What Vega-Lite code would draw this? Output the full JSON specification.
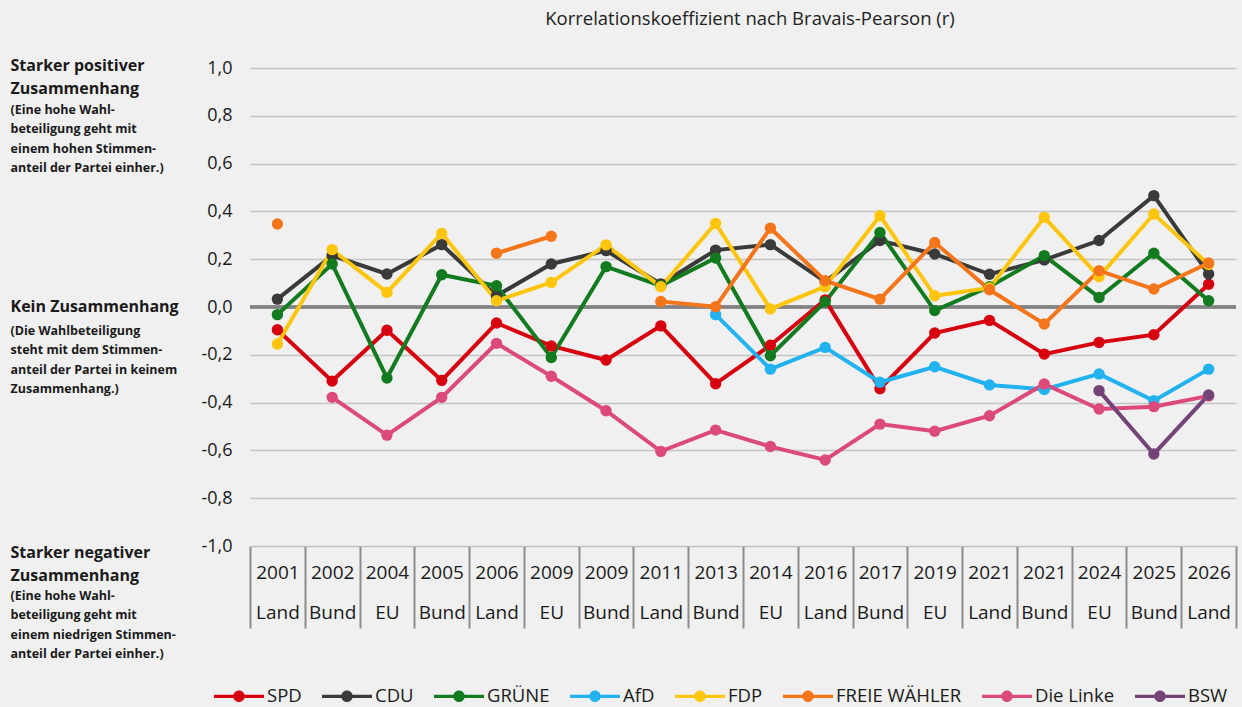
{
  "$schema": "https://vega.github.io/schema/vega-lite/v6.json",
  "autosize": {"type": "none"},
  "width": 986,
  "height": 478,
  "padding": {"left": 250, "top": 68, "right": 6, "bottom": 161},
  "background": "#f0f0f0",
  "title": {"text": "Korrelationskoeffizient nach Bravais-Pearson (r)", "anchor": "middle", "font": "Open Sans", "fontSize": 18.5, "fontWeight": "normal", "color": "#222222", "offset": 29, "dx": 7},
  "config": {"view": {"stroke": null}, "font": "Open Sans"},
  "datasets": {
    "r": [
      {"k": "2001 Land", "partei": "SPD", "r": -0.095},
      {"k": "2002 Bund", "partei": "SPD", "r": -0.31},
      {"k": "2004 EU", "partei": "SPD", "r": -0.097},
      {"k": "2005 Bund", "partei": "SPD", "r": -0.307},
      {"k": "2006 Land", "partei": "SPD", "r": -0.067},
      {"k": "2009 EU", "partei": "SPD", "r": -0.163},
      {"k": "2009 Bund", "partei": "SPD", "r": -0.222},
      {"k": "2011 Land", "partei": "SPD", "r": -0.079},
      {"k": "2013 Bund", "partei": "SPD", "r": -0.321},
      {"k": "2014 EU", "partei": "SPD", "r": -0.16},
      {"k": "2016 Land", "partei": "SPD", "r": 0.03},
      {"k": "2017 Bund", "partei": "SPD", "r": -0.342},
      {"k": "2019 EU", "partei": "SPD", "r": -0.109},
      {"k": "2021 Land", "partei": "SPD", "r": -0.056},
      {"k": "2021 Bund", "partei": "SPD", "r": -0.197},
      {"k": "2024 EU", "partei": "SPD", "r": -0.148},
      {"k": "2025 Bund", "partei": "SPD", "r": -0.116},
      {"k": "2026 Land", "partei": "SPD", "r": 0.095},
      {"k": "2001 Land", "partei": "CDU", "r": 0.033},
      {"k": "2002 Bund", "partei": "CDU", "r": 0.215},
      {"k": "2004 EU", "partei": "CDU", "r": 0.138},
      {"k": "2005 Bund", "partei": "CDU", "r": 0.261},
      {"k": "2006 Land", "partei": "CDU", "r": 0.047},
      {"k": "2009 EU", "partei": "CDU", "r": 0.18},
      {"k": "2009 Bund", "partei": "CDU", "r": 0.236},
      {"k": "2011 Land", "partei": "CDU", "r": 0.096},
      {"k": "2013 Bund", "partei": "CDU", "r": 0.238},
      {"k": "2014 EU", "partei": "CDU", "r": 0.261},
      {"k": "2016 Land", "partei": "CDU", "r": 0.106},
      {"k": "2017 Bund", "partei": "CDU", "r": 0.278},
      {"k": "2019 EU", "partei": "CDU", "r": 0.222},
      {"k": "2021 Land", "partei": "CDU", "r": 0.137},
      {"k": "2021 Bund", "partei": "CDU", "r": 0.197},
      {"k": "2024 EU", "partei": "CDU", "r": 0.278},
      {"k": "2025 Bund", "partei": "CDU", "r": 0.466},
      {"k": "2026 Land", "partei": "CDU", "r": 0.138},
      {"k": "2001 Land", "partei": "GRÜNE", "r": -0.032},
      {"k": "2002 Bund", "partei": "GRÜNE", "r": 0.18},
      {"k": "2004 EU", "partei": "GRÜNE", "r": -0.297},
      {"k": "2005 Bund", "partei": "GRÜNE", "r": 0.135},
      {"k": "2006 Land", "partei": "GRÜNE", "r": 0.089},
      {"k": "2009 EU", "partei": "GRÜNE", "r": -0.211},
      {"k": "2009 Bund", "partei": "GRÜNE", "r": 0.169},
      {"k": "2011 Land", "partei": "GRÜNE", "r": 0.089},
      {"k": "2013 Bund", "partei": "GRÜNE", "r": 0.205},
      {"k": "2014 EU", "partei": "GRÜNE", "r": -0.204},
      {"k": "2016 Land", "partei": "GRÜNE", "r": 0.022},
      {"k": "2017 Bund", "partei": "GRÜNE", "r": 0.312},
      {"k": "2019 EU", "partei": "GRÜNE", "r": -0.015},
      {"k": "2021 Land", "partei": "GRÜNE", "r": 0.085},
      {"k": "2021 Bund", "partei": "GRÜNE", "r": 0.215},
      {"k": "2024 EU", "partei": "GRÜNE", "r": 0.04},
      {"k": "2025 Bund", "partei": "GRÜNE", "r": 0.225},
      {"k": "2026 Land", "partei": "GRÜNE", "r": 0.026},
      {"k": "2013 Bund", "partei": "AfD", "r": -0.032},
      {"k": "2014 EU", "partei": "AfD", "r": -0.26},
      {"k": "2016 Land", "partei": "AfD", "r": -0.169},
      {"k": "2017 Bund", "partei": "AfD", "r": -0.315},
      {"k": "2019 EU", "partei": "AfD", "r": -0.25},
      {"k": "2021 Land", "partei": "AfD", "r": -0.326},
      {"k": "2021 Bund", "partei": "AfD", "r": -0.345},
      {"k": "2024 EU", "partei": "AfD", "r": -0.28},
      {"k": "2025 Bund", "partei": "AfD", "r": -0.392},
      {"k": "2026 Land", "partei": "AfD", "r": -0.26},
      {"k": "2001 Land", "partei": "FDP", "r": -0.155},
      {"k": "2002 Bund", "partei": "FDP", "r": 0.24},
      {"k": "2004 EU", "partei": "FDP", "r": 0.061},
      {"k": "2005 Bund", "partei": "FDP", "r": 0.308},
      {"k": "2006 Land", "partei": "FDP", "r": 0.026},
      {"k": "2009 EU", "partei": "FDP", "r": 0.103},
      {"k": "2009 Bund", "partei": "FDP", "r": 0.26},
      {"k": "2011 Land", "partei": "FDP", "r": 0.085},
      {"k": "2013 Bund", "partei": "FDP", "r": 0.35},
      {"k": "2014 EU", "partei": "FDP", "r": -0.008},
      {"k": "2016 Land", "partei": "FDP", "r": 0.085},
      {"k": "2017 Bund", "partei": "FDP", "r": 0.382},
      {"k": "2019 EU", "partei": "FDP", "r": 0.047},
      {"k": "2021 Land", "partei": "FDP", "r": 0.08},
      {"k": "2021 Bund", "partei": "FDP", "r": 0.375},
      {"k": "2024 EU", "partei": "FDP", "r": 0.127},
      {"k": "2025 Bund", "partei": "FDP", "r": 0.389},
      {"k": "2026 Land", "partei": "FDP", "r": 0.178},
      {"k": "2001 Land", "partei": "FREIE WÄHLER", "r": 0.347},
      {"k": "2002 Bund", "partei": "FREIE WÄHLER", "r": null},
      {"k": "2006 Land", "partei": "FREIE WÄHLER", "r": 0.225},
      {"k": "2009 EU", "partei": "FREIE WÄHLER", "r": 0.296},
      {"k": "2009 Bund", "partei": "FREIE WÄHLER", "r": null},
      {"k": "2011 Land", "partei": "FREIE WÄHLER", "r": 0.023},
      {"k": "2013 Bund", "partei": "FREIE WÄHLER", "r": 0.001},
      {"k": "2014 EU", "partei": "FREIE WÄHLER", "r": 0.33},
      {"k": "2016 Land", "partei": "FREIE WÄHLER", "r": 0.11},
      {"k": "2017 Bund", "partei": "FREIE WÄHLER", "r": 0.033},
      {"k": "2019 EU", "partei": "FREIE WÄHLER", "r": 0.27},
      {"k": "2021 Land", "partei": "FREIE WÄHLER", "r": 0.072},
      {"k": "2021 Bund", "partei": "FREIE WÄHLER", "r": -0.071},
      {"k": "2024 EU", "partei": "FREIE WÄHLER", "r": 0.152},
      {"k": "2025 Bund", "partei": "FREIE WÄHLER", "r": 0.075},
      {"k": "2026 Land", "partei": "FREIE WÄHLER", "r": 0.184},
      {"k": "2002 Bund", "partei": "Die Linke", "r": -0.378},
      {"k": "2004 EU", "partei": "Die Linke", "r": -0.536},
      {"k": "2005 Bund", "partei": "Die Linke", "r": -0.378},
      {"k": "2006 Land", "partei": "Die Linke", "r": -0.152},
      {"k": "2009 EU", "partei": "Die Linke", "r": -0.29},
      {"k": "2009 Bund", "partei": "Die Linke", "r": -0.434},
      {"k": "2011 Land", "partei": "Die Linke", "r": -0.604},
      {"k": "2013 Bund", "partei": "Die Linke", "r": -0.515},
      {"k": "2014 EU", "partei": "Die Linke", "r": -0.584},
      {"k": "2016 Land", "partei": "Die Linke", "r": -0.64},
      {"k": "2017 Bund", "partei": "Die Linke", "r": -0.49},
      {"k": "2019 EU", "partei": "Die Linke", "r": -0.52},
      {"k": "2021 Land", "partei": "Die Linke", "r": -0.455},
      {"k": "2021 Bund", "partei": "Die Linke", "r": -0.322},
      {"k": "2024 EU", "partei": "Die Linke", "r": -0.427},
      {"k": "2025 Bund", "partei": "Die Linke", "r": -0.417},
      {"k": "2026 Land", "partei": "Die Linke", "r": -0.372},
      {"k": "2024 EU", "partei": "BSW", "r": -0.35},
      {"k": "2025 Bund", "partei": "BSW", "r": -0.615},
      {"k": "2026 Land", "partei": "BSW", "r": -0.368}
    ],
    "labels": [{"v": 1}, {"v": 0}, {"v": -1}]
  },
  "resolve": {"axis": {"y": "independent"}},
  "layer": [
    {
      "data": {"name": "labels"},
      "mark": {"type": "rule", "opacity": 0},
      "encoding": {
        "y": {"field": "v", "type": "quantitative", "scale": {"domain": [-1, 1], "nice": false},
          "axis": {"orient": "left", "title": null, "values": [1, 0, -1], "domain": false, "ticks": false, "grid": false,
            "labelAlign": "left", "labelBaseline": "top", "labelPadding": 240, "labelLimit": 0, "labelOverlap": false,
            "labelFont": "Open Sans", "labelFontSize": 16, "labelFontWeight": "bold", "labelColor": "#1a1a1a", "labelLineHeight": 23,
            "labelOffset": {"condition": [{"test": "datum.value == 1", "value": -11}, {"test": "datum.value == 0", "value": -9}], "value": -2},
            "labelExpr": "datum.value == 1 ? ['Starker positiver', 'Zusammenhang'] : datum.value == 0 ? ['Kein Zusammenhang'] : ['Starker negativer', 'Zusammenhang']"}}
      }
    },
    {
      "data": {"name": "labels"},
      "mark": {"type": "rule", "opacity": 0},
      "encoding": {
        "y": {"field": "v", "type": "quantitative", "scale": {"domain": [-1, 1], "nice": false},
          "axis": {"orient": "left", "title": null, "values": [1, 0, -1], "domain": false, "ticks": false, "grid": false,
            "labelAlign": "left", "labelBaseline": "top", "labelPadding": 240, "labelLimit": 0, "labelOverlap": false,
            "labelFont": "Open Sans", "labelFontSize": 12.5, "labelFontWeight": "bold", "labelColor": "#1a1a1a", "labelLineHeight": 19.5,
            "labelOffset": {"condition": [{"test": "datum.value == 1", "value": 35}, {"test": "datum.value == 0", "value": 17}], "value": 43},
            "labelExpr": "datum.value == 1 ? ['(Eine hohe Wahl-', 'beteiligung  geht mit', 'einem hohen Stimmen-', 'anteil der Partei einher.)'] : datum.value == 0 ? ['(Die Wahlbeteiligung', 'steht mit dem Stimmen-', 'anteil der Partei in keinem', 'Zusammenhang.)'] : ['(Eine hohe Wahl-', 'beteiligung geht mit', 'einem niedrigen Stimmen-', 'anteil der Partei einher.)']"}}
      }
    },
    {
      "data": {"name": "labels"},
      "mark": {"type": "rule", "color": "#828282", "strokeWidth": 3},
      "encoding": {"y": {"datum": 0, "type": "quantitative", "axis": null}}
    },
    {
      "data": {"name": "r"},
      "mark": {"type": "line", "strokeWidth": 4, "invalid": "break-paths-show-domains", "point": {"filled": true, "size": 130, "opacity": 1}},
      "encoding": {
        "x": {"field": "k", "type": "nominal",
          "scale": {"type": "band", "paddingInner": 0, "paddingOuter": 0,
            "domain": ["2001 Land", "2002 Bund", "2004 EU", "2005 Bund", "2006 Land", "2009 EU", "2009 Bund", "2011 Land", "2013 Bund", "2014 EU", "2016 Land", "2017 Bund", "2019 EU", "2021 Land", "2021 Bund", "2024 EU", "2025 Bund", "2026 Land"]},
          "axis": {"title": null, "labelAngle": 0, "labelExpr": "datum.value ? split(datum.value, ' ') : ''", "labelFont": "Open Sans", "labelFontSize": 19, "labelColor": "#1a1a1a",
            "labelLineHeight": 40, "labelBaseline": "top", "labelPadding": -65,
            "ticks": true, "tickBand": "extent", "tickSize": 82, "tickColor": "#8c8c8c", "tickWidth": 2,
            "domain": true, "domainColor": "#c0c0c0", "domainWidth": 1, "grid": false}},
        "y": {"field": "r", "type": "quantitative", "scale": {"domain": [-1, 1], "nice": false},
          "axis": {"orient": "left", "title": null, "values": [1, 0.8, 0.6, 0.4, 0.2, 0, -0.2, -0.4, -0.6, -0.8, -1], "domain": false, "ticks": false,
            "grid": true, "gridColor": "#c4c4c4", "gridWidth": 1.5, "labelPadding": 18, "labelOverlap": false,
            "labelFont": "Open Sans", "labelFontSize": 18, "labelColor": "#1a1a1a",
            "labelExpr": "(datum.value < 0 ? '-' : '') + replace(format(abs(datum.value), '.1f'), '.', ',')"}},
        "color": {"field": "partei", "type": "nominal",
          "scale": {"domain": ["SPD", "CDU", "GRÜNE", "AfD", "FDP", "FREIE WÄHLER", "Die Linke", "BSW"],
            "range": ["#d7000f", "#3a3a3a", "#127a1f", "#22b2ef", "#fdc60d", "#f5761a", "#dc4a7c", "#744479"]},
          "legend": {"title": null, "orient": "none", "direction": "horizontal", "legendX": -36, "legendY": 603,
            "symbolType": "M-1,-0.065L1,-0.065L1,0.065L-1,0.065Z M-0.23,0A0.23,0.23 0 1,1 0.23,0A0.23,0.23 0 1,1 -0.23,0Z",
            "symbolSize": 2500, "symbolStrokeWidth": 0, "labelFont": "Open Sans", "labelFontSize": 18.5, "labelColor": "#1a1a1a",
            "labelOffset": 3, "columnPadding": 20,
            "encode": {"symbols": {"update": {
              "shape": {"value": "M-1,-0.065L1,-0.065L1,0.065L-1,0.065Z M-0.23,0A0.23,0.23 0 1,1 0.23,0A0.23,0.23 0 1,1 -0.23,0Z"},
              "size": {"value": 2500},
              "fill": {"scale": "color", "field": "value"}, "fillOpacity": {"value": 1}, "opacity": {"value": 1}, "strokeWidth": {"value": 0}}}}}}
      }
    }
  ]
}
